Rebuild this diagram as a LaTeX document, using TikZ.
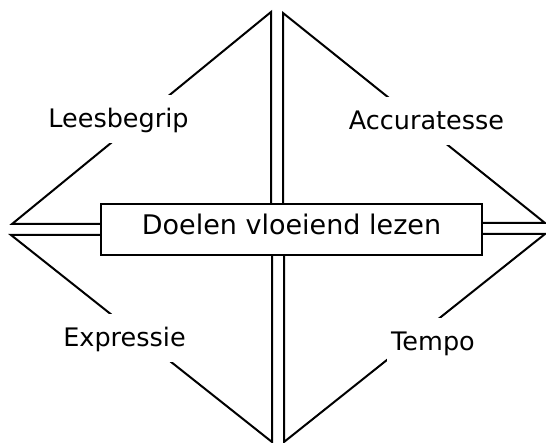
\documentclass[tikz,border=0pt]{standalone}
\usepackage{fontspec}
\setmainfont{DejaVu Sans}
\usepackage{tikz}
\usetikzlibrary{calc}

\begin{document}
\begin{tikzpicture}[x  = 1pt,
                    y  = -1pt,
                    line width = 2pt,
                    doelbox/.style = {draw, minimum width=381pt, minimum height=51pt,
                                      inner sep=0pt, text height=18pt, text depth=7pt,
                                      font=\fontsize{27}{30}\selectfont},
                    hoek/.style    = {anchor=base, fill=white, inner xsep=4pt, inner ysep=15pt,
                                      text height=18pt, text depth=0pt,
                                      font=\fontsize{25.5}{30}\selectfont}]

\useasboundingbox (0,0) rectangle (546,443);

%centre box
\node [doelbox] (doel) at (291.5,229.5) {Doelen vloeiend lezen};

%tips
\coordinate (lboven)  at (12,224);
\coordinate (londer)  at (11,235);
\coordinate (rboven)  at (545,223);
\coordinate (ronder)  at (545,234);
\coordinate (tlinks)  at (271,12);
\coordinate (trechts) at (283,13);
\coordinate (blinks)  at (272,442);
\coordinate (brechts) at (284,442);

%top left
\draw (doel.west |- lboven) -- (lboven) -- (tlinks) -- (tlinks |- doel.north);
%top right
\draw (doel.east |- rboven) -- (rboven) -- (trechts) -- (trechts |- doel.north);
%bottom left
\draw (doel.west |- londer) -- (londer) -- (blinks) -- (blinks |- doel.south);
%bottom right
\draw (doel.east |- ronder) -- (ronder) -- (brechts) -- (brechts |- doel.south);

%labels
\node [hoek] (lees)  at (118.5,128) {Leesbegrip};
\node [hoek] (acc)   at (426.5,130) {Accuratesse};
\node [hoek] (expr)  at (124.5,347) {Expressie};
\node [hoek] (tempo) at (433,351)   {Tempo};

\end{tikzpicture}
\end{document}
